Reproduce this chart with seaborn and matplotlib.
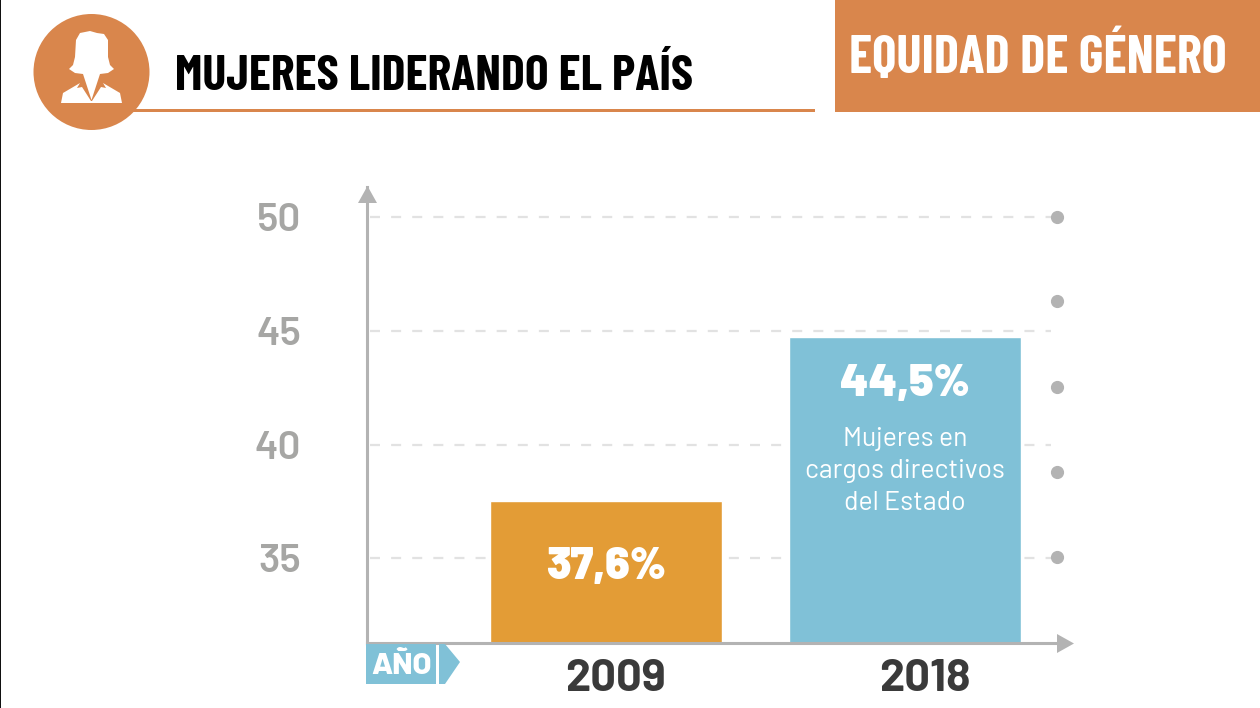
import matplotlib
matplotlib.use('Agg')
import matplotlib.pyplot as plt
from matplotlib.patches import Circle, Polygon, Rectangle
import pandas as pd
import seaborn as sns

# chart data, bar heights (labels are the printed ones)
years = ['2009', '2018']
bar_values = [37.5, 44.75]
bar_labels = ['37,6%', '44,5%']
bar_colors = ['#E39C36', '#80C1D7']
y_ticks = [35, 40, 45, 50]
dot_levels = [35.05, 38.8, 42.55, 46.3, 50]
note_lines = 'Mujeres en\ncargos directivos\ndel Estado'

title = 'MUJERES LIDERANDO EL PAÍS'
section = 'EQUIDAD DE GÉNERO'

ORANGE = '#D9864C'
BLUE = '#80C1D7'
GREY = '#B3B3B3'
# DIN look-alikes, with the plain families behind them
CONDENSED = ['Barlow Condensed', 'Roboto', 'DejaVu Sans']
WIDE = ['Barlow', 'Roboto', 'DejaVu Sans']

sns.set_theme(style='white')
plt.rcParams['font.family'] = WIDE

df = pd.DataFrame({'year': years, 'value': bar_values})

fig = plt.figure(figsize=(12.6, 7.08), dpi=100)
ax = fig.add_axes([367 / 1260, 1 - 642.5 / 708, (1060 - 367) / 1260, (642.5 - 187) / 708])

sns.barplot(data=df, x='year', y='value', hue='year', palette=bar_colors, legend=False,
            width=0.776, saturation=1, ax=ax, zorder=3)
ax.set_xlim(-0.7995, 1.5185)
ax.set_ylim(31.284, 51.34)
ax.set_xlabel('')
ax.set_ylabel('')
ax.set_yticks(y_ticks)
# the year labels sit a little right of the bar centres in the original
ax.set_xticks([0.033, 1.065], years)
ax.tick_params(axis='y', length=0, pad=47.5, labelsize=29, labelcolor='#A6A6A4')
ax.tick_params(axis='x', length=0, pad=12, labelsize=32.5, labelcolor='#3A3A3A')
for lab in ax.get_yticklabels():
    lab.set_fontweight('semibold')
for lab in ax.get_xticklabels():
    lab.set_fontweight('bold')

# dashed guides stop just before the dot column
ax.hlines(y_ticks, -0.79, 1.49, color='#E2E2E2', lw=1.6, linestyles=(0, (4.5, 5)), zorder=1)
ax.scatter([1.508] * len(dot_levels), dot_levels, s=72, color=GREY, zorder=2, clip_on=False)

for s in ['top', 'right']:
    ax.spines[s].set_visible(False)
for s in ['left', 'bottom']:
    ax.spines[s].set_color(GREY)
    ax.spines[s].set_linewidth(2.2)
    ax.spines[s].set_zorder(4)

# labels in the bars
ax.text(0, 34.6, bar_labels[0], color='white', fontsize=32, fontweight='black',
        ha='center', va='center', zorder=5)
ax.text(1, 42.65, bar_labels[1], color='white', fontsize=32, fontweight='black',
        ha='center', va='center', zorder=5)
ax.text(1, 38.85, note_lines, color='white', fontsize=19.2, fontweight='normal', ha='center',
        va='center', linespacing=1.42, zorder=5)

# page furniture drawn in pixel coordinates
page = fig.add_axes([0, 0, 1, 1], zorder=10)
page.set_xlim(0, 1260)
page.set_ylim(708, 0)
page.axis('off')
page.patch.set_alpha(0)

page.add_patch(Rectangle((0, 0), 1, 708, color='#111111', lw=0))
page.add_patch(Rectangle((130, 109), 685, 3, color=ORANGE, lw=0))
page.add_patch(Rectangle((835, 0), 425, 112, color=ORANGE, lw=0))
page.add_patch(Circle((91.5, 72), 58, color=ORANGE, lw=0))

# woman icon
page.add_patch(Polygon([(90, 31), (80, 33), (76, 40), (75, 57), (73, 65), (69, 69), (75, 73), (83, 74),
                        (91.5, 100), (100, 74), (108, 73), (114, 69), (110, 65), (108, 57), (108, 40),
                        (104, 34), (97, 33)], color='white', lw=0))
page.add_patch(Polygon([(61, 103), (63, 93), (80, 83), (77, 88), (82, 87), (91, 101), (92, 101),
                        (101, 87), (106, 88), (103, 83), (120, 93), (122, 103)], color='white', lw=0))

# axis arrow heads
page.add_patch(Polygon([(358, 203), (377, 203), (367.5, 186)], color=GREY, lw=0))
page.add_patch(Polygon([(1057, 634), (1057, 653), (1074, 643.5)], color=GREY, lw=0))

# AÑO tag
page.add_patch(Rectangle((366, 644), 70, 40, color=BLUE, lw=0))
page.add_patch(Polygon([(439, 644), (445, 644), (460, 662), (445, 684), (439, 684)], color=BLUE, lw=0))
page.text(401, 666, 'AÑO', color='white', fontsize=22, fontweight='extra bold', ha='center', va='center')

page.text(175, 77, title, color='black', fontsize=36, fontweight='bold', ha='left', va='center', family=CONDENSED)
page.text(849, 57, section, color='white', fontsize=38, fontweight='bold', ha='left', va='center', family=CONDENSED)

fig.savefig('out.png', dpi=100)
